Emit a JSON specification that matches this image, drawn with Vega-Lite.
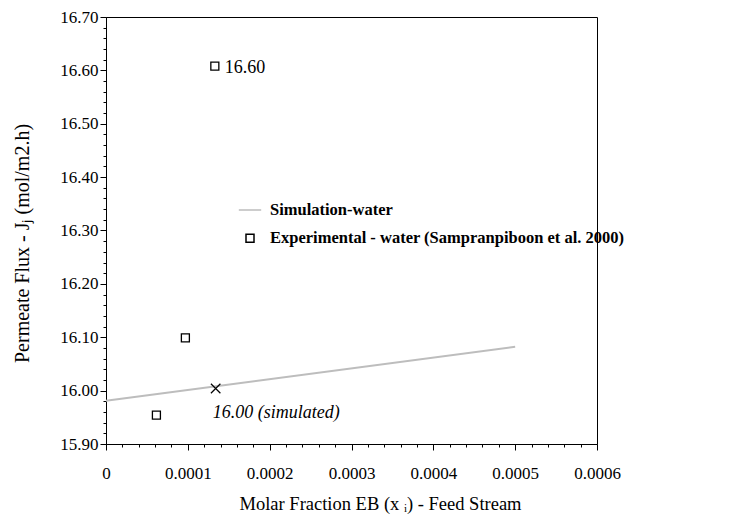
{
  "$schema": "https://vega.github.io/schema/vega-lite/v6.json",
  "autosize": {"type": "none"},
  "padding": {"left": 106, "top": 17, "right": 132, "bottom": 75},
  "width": 491,
  "height": 427,
  "background": "white",
  "view": {"stroke": "black", "strokeWidth": 1},
  "config": {
    "font": "serif",
    "axis": {"labelFont": "serif", "titleFont": "serif", "labelColor": "black", "titleColor": "black", "domainColor": "black", "tickColor": "black", "grid": false, "labelFontSize": 17, "titleFontSize": 18.5, "titleFontWeight": "normal", "tickSize": 6}
  },
  "layer": [
    {
      "data": {"values": [
        {"x": 0, "y": 15.981, "series": "Simulation-water"},
        {"x": 0.0005, "y": 16.082, "series": "Simulation-water"}
      ]},
      "mark": {"type": "line", "strokeWidth": 2},
      "encoding": {
        "x": {"field": "x", "type": "quantitative",
          "scale": {"domain": [0, 0.0006], "nice": false, "zero": false},
          "axis": {
            "title": "Molar Fraction EB (x ᵢ) - Feed Stream",
            "titleX": 274,
            "titleAlign": "center",
            "values": [0,0.00002,0.00004,0.00006,0.00008,0.0001,0.00012,0.00014,0.00016,0.00018,0.0002,0.00022,0.00024,0.00026,0.00028,0.0003,0.00032,0.00034,0.00036,0.00038,0.0004,0.00042,0.00044,0.00046,0.00048,0.0005,0.00052,0.00054,0.00056,0.00058,0.0006],
            "tickCount": 200,
            "labelExpr": "abs(datum.value*10000 - round(datum.value*10000)) < 0.001 ? (datum.value == 0 ? '0' : format(datum.value, '.4f')) : ''",
            "tickDash": {"condition": {"test": "abs(datum.value*10000 - round(datum.value*10000)) < 0.001", "value": [10, 0]}, "value": [3, 10]},
            "labelPadding": 15,
            "labelFlush": false,
            "labelOverlap": false,
            "titlePadding": 13
          }
        },
        "y": {"field": "y", "type": "quantitative",
          "scale": {"domain": [15.9, 16.7], "nice": false, "zero": false},
          "axis": {
            "title": "Permeate Flux - Jⱼ (mol/m2.h)",
            "titleFontSize": 20,
            "titleY": 226,
            "titleAlign": "center",
            "values": [15.9,15.92,15.94,15.96,15.98,16,16.02,16.04,16.06,16.08,16.1,16.12,16.14,16.16,16.18,16.2,16.22,16.24,16.26,16.28,16.3,16.32,16.34,16.36,16.38,16.4,16.42,16.44,16.46,16.48,16.5,16.52,16.54,16.56,16.58,16.6,16.62,16.64,16.66,16.68,16.7],
            "tickCount": 200,
            "labelExpr": "abs(datum.value*10 - round(datum.value*10)) < 0.001 ? format(datum.value, '.2f') : ''",
            "tickDash": {"condition": {"test": "abs(datum.value*10 - round(datum.value*10)) < 0.001", "value": [10, 0]}, "value": [3, 10]},
            "labelPadding": 2,
            "labelOverlap": false,
            "labelFlush": false,
            "titlePadding": 27
          }
        },
        "color": {"field": "series", "type": "nominal",
          "scale": {"domain": ["Simulation-water", "Experimental - water (Sampranpiboon et al. 2000)"], "range": ["#bdbdbd", "black"]},
          "legend": {"title": null, "orient": "none", "legendX": 132, "legendY": 181, "labelFont": "serif", "labelFontWeight": "bold", "labelFontSize": 16.5, "labelColor": "black", "labelLimit": 0, "symbolStrokeWidth": 1.5, "rowPadding": 11, "labelOffset": 8}
        }
      }
    },
    {
      "data": {"values": [
        {"x": 0.0000616, "y": 15.954, "series": "Experimental - water (Sampranpiboon et al. 2000)"},
        {"x": 0.000097, "y": 16.099, "series": "Experimental - water (Sampranpiboon et al. 2000)"},
        {"x": 0.000133, "y": 16.608, "series": "Experimental - water (Sampranpiboon et al. 2000)"}
      ]},
      "mark": {"type": "point", "filled": false, "strokeWidth": 1.3, "opacity": 1},
      "encoding": {
        "x": {"field": "x", "type": "quantitative"},
        "y": {"field": "y", "type": "quantitative"},
        "color": {"field": "series", "type": "nominal"},
        "shape": {"field": "series", "type": "nominal", "scale": {"domain": ["Simulation-water", "Experimental - water (Sampranpiboon et al. 2000)"], "range": ["stroke", "square"]}},
        "size": {"field": "series", "type": "nominal", "scale": {"domain": ["Simulation-water", "Experimental - water (Sampranpiboon et al. 2000)"], "range": [500, 64]}}
      }
    },
    {
      "data": {"values": [{"x": 0.000134, "y": 16.004}]},
      "mark": {"type": "point", "shape": "M-1,-1L1,1M-1,1L1,-1", "filled": false, "color": "black", "strokeWidth": 1.2, "size": 90, "opacity": 1},
      "encoding": {
        "x": {"field": "x", "type": "quantitative"},
        "y": {"field": "y", "type": "quantitative"}
      }
    },
    {
      "data": {"values": [{"x": 0.000133, "y": 16.608, "label": "16.60"}]},
      "mark": {"type": "text", "align": "left", "baseline": "middle", "dx": 10, "dy": 2, "fontSize": 18, "font": "serif", "color": "black"},
      "encoding": {
        "x": {"field": "x", "type": "quantitative"},
        "y": {"field": "y", "type": "quantitative"},
        "text": {"field": "label"}
      }
    },
    {
      "data": {"values": [{"x": 0.000134, "y": 16.004, "label": "16.00 (simulated)"}]},
      "mark": {"type": "text", "align": "left", "baseline": "middle", "dx": -3, "dy": 25, "fontSize": 18, "fontStyle": "italic", "font": "serif", "color": "black"},
      "encoding": {
        "x": {"field": "x", "type": "quantitative"},
        "y": {"field": "y", "type": "quantitative"},
        "text": {"field": "label"}
      }
    }
  ]
}
